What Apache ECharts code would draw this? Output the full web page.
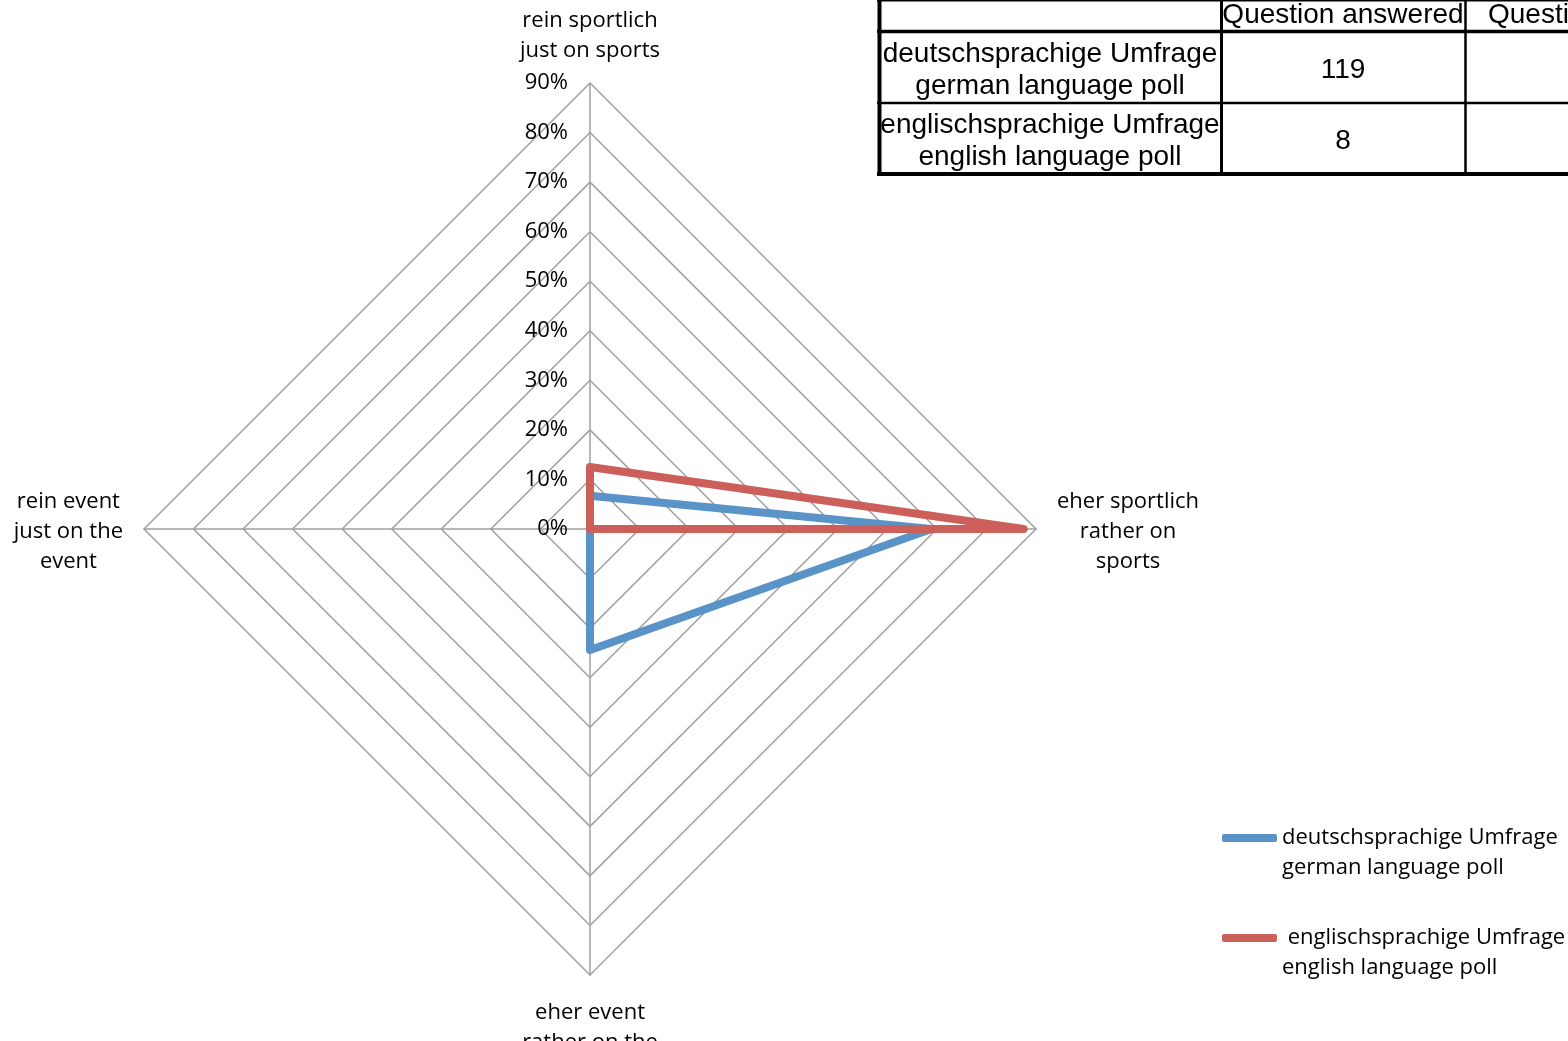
<!DOCTYPE html>
<html>
<head>
<meta charset="utf-8">
<script src="https://cdn.jsdelivr.net/npm/echarts@6/dist/echarts.min.js"></script>
<style>html,body{margin:0;padding:0;background:#fff}#c{width:1568px;height:1041px}</style>
</head>
<body>
<div id="c"></div>
<script>
// Indicators in ECharts order (top, then counter-clockwise)
const indicatorNames = [
  'rein sportlich\njust on sports',
  'rein event\njust on the\nevent',
  'eher event\nrather on the\nevent',
  'eher sportlich\nrather on\nsports'
];
const axisMax = 90;
const seriesNames = ['deutschsprachige Umfrage\ngerman language poll', ' englischsprachige Umfrage\nenglish language poll'];
const germanValues = [6.7, 0, 24.4, 68.9];
const englishValues = [12.5, 0, 0, 87.5];
const tableHeader = ['', 'Question answered', 'Question not answered'];
const tableRows = [
  ['deutschsprachige Umfrage\ngerman language poll', '119'],
  ['englischsprachige Umfrage\nenglish language poll', '8']
];
const colors = ['#5A93C8', '#CC5F59'];

const chart = echarts.init(document.getElementById('c'), null, {renderer: 'canvas'});
const FONT = 'Open Sans, Lato, sans-serif';

const table = [];
const lineC = '#000';
[[0,3],[31.5,3.5],[103,2.5],[174,4]].forEach(([y,w]) => table.push({type:'line', shape:{x1:877, y1:y, x2:1568, y2:y}, style:{stroke:lineC, lineWidth:w}}));
[[879.5,4],[1221.5,3],[1465.5,2.5]].forEach(([x,w]) => table.push({type:'line', shape:{x1:x, y1:0, x2:x, y2:176}, style:{stroke:lineC, lineWidth:w}}));
const tfont = '28px "Liberation Sans", Arial, sans-serif';
table.push({type:'text', style:{text:tableHeader[1], x:1343, y:15, align:'center', verticalAlign:'middle', font:tfont, fill:'#000'}});
table.push({type:'text', style:{text:tableHeader[2], x:1488, y:15, align:'left', verticalAlign:'middle', font:tfont, fill:'#000'}});
tableRows.forEach((r, i) => {
  const cy = i === 0 ? 70 : 141;
  table.push({type:'text', style:{text:r[0], x:1050, y:cy, align:'center', verticalAlign:'middle', font:tfont, lineHeight:32, fill:'#000'}});
  table.push({type:'text', style:{text:r[1], x:1343, y:cy, align:'center', verticalAlign:'middle', font:tfont, fill:'#000'}});
});

chart.setOption({
  animation: false,
  backgroundColor: '#fff',
  color: colors,
  legend: {
    orient: 'vertical',
    left: 1217,
    top: 788,
    itemWidth: 55,
    itemHeight: 8,
    itemGap: 10,
    icon: 'roundRect',
    data: seriesNames,
    formatter: n => '\n' + n,
    textStyle: {fontFamily: FONT, fontSize: 22, color: '#000', lineHeight: 30},
    selectedMode: false
  },
  radar: {
    center: [590, 529],
    radius: 446,
    startAngle: 90,
    shape: 'polygon',
    splitNumber: 9,
    nameGap: 17,
    axisName: {
      color: '#000',
      fontFamily: FONT,
      fontSize: 22,
      lineHeight: 30,
      padding: [6, 4, 0, 4],
      formatter: v => v.split('\n').map(s => '{c|' + s + '}').join('\n'),
      rich: {c: {align: 'center', fontFamily: FONT, fontSize: 22, lineHeight: 30, color: '#000'}}
    },
    axisLine: {lineStyle: {color: '#A0A0A0', width: 1.5}},
    splitLine: {lineStyle: {color: '#A0A0A0', width: 1.5}},
    splitArea: {show: false},
    axisTick: {show: false},
    axisLabel: {show: false},
    indicator: indicatorNames.map((n, i) => ({
      name: n, min: 0, max: axisMax,
      axisLabel: i === 0 ? {show: true, formatter: v => v + '%', color: '#000', fontFamily: FONT, fontSize: 22, margin: 22, showMaxLabel: true} : {show: false}
    }))
  },
  series: [{
    type: 'radar',
    symbol: 'none',
    z: 2,
    data: [
      {name: seriesNames[0], value: germanValues, lineStyle: {color: colors[0], width: 8, join: 'round', cap: 'round'}, itemStyle: {color: colors[0]}},
      {name: seriesNames[1], value: englishValues, lineStyle: {color: colors[1], width: 8, join: 'round', cap: 'round'}, itemStyle: {color: colors[1]}}
    ]
  }],
  graphic: table
});
</script>
</body>
</html>
